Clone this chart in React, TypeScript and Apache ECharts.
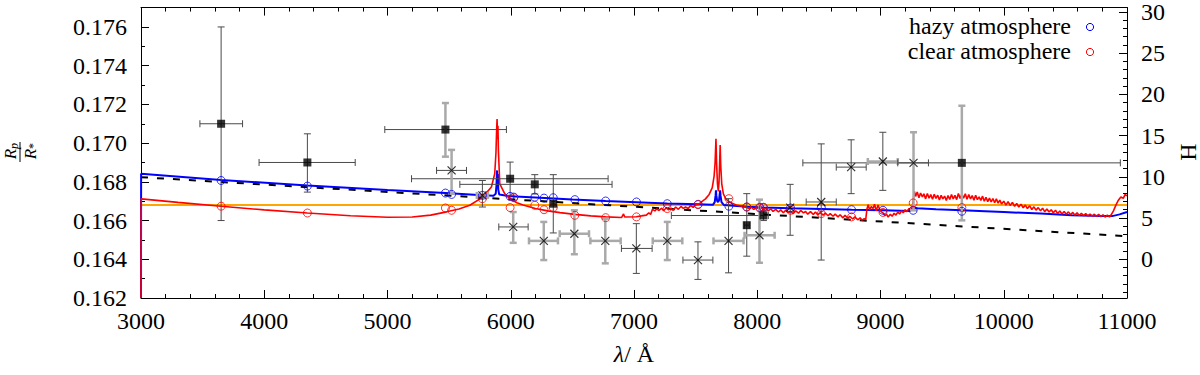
import React, { useEffect, useRef } from 'react';
import * as echarts from 'echarts';

// ---------- axes ----------
const X_MIN = 3000;
const X_MAX = 11000;
const X_STEP = 1000;
const Y_MIN = 0.162;
const Y_MAX = 0.177;
const Y_STEP = 0.002;
const H_MIN = -4.717;
const H_MAX = 30.536;
const H_LABELS = [0, 5, 10, 15, 20, 25, 30];
const H_MINOR = [-4, -3, -2, -1, 0, 1, 2, 3, 4, 5, 6, 7, 8, 9, 10, 11, 12, 13, 14, 15, 16, 17, 18, 19, 20, 21, 22, 23, 24, 25, 26, 27, 28, 29, 30];

// ---------- reference lines ----------
const flatX = [3000, 11000];
const flatY = [0.1668, 0.1668];
const fitX = [3000, 11000];
const fitY = [0.16824, 0.16519];

// ---------- model spectra ----------
const hazyLine: number[][] = [
  [3000, 0.162], [3001, 0.16842], [3650, 0.1681], [4350, 0.16781], [5000, 0.16758], [5470, 0.16742],
  [5770, 0.16731], [5860, 0.16728], [5878, 0.16738], [5884, 0.1678], [5889, 0.16859], [5892, 0.1679],
  [5894, 0.16775], [5896, 0.1684], [5899, 0.1676], [5906, 0.16735], [6000, 0.16725], [6200, 0.16719],
  [6500, 0.16709], [6770, 0.16701], [7020, 0.16695], [7270, 0.16688], [7520, 0.16684], [7640, 0.16681],
  [7655, 0.16695], [7662, 0.1673], [7665, 0.16756], [7668, 0.1673], [7675, 0.167], [7682, 0.16695],
  [7690, 0.16705], [7696, 0.1674], [7699, 0.16756], [7702, 0.1673], [7710, 0.16695], [7730, 0.1668],
  [7915, 0.16671], [8050, 0.16668], [8270, 0.16664], [8520, 0.1666], [8765, 0.16656], [9020, 0.16653],
  [9240, 0.1665], [9262, 0.16667], [9300, 0.16664], [9450, 0.16658], [9660, 0.16653], [9850, 0.16648],
  [10000, 0.16644], [10300, 0.16636], [10550, 0.16627], [10800, 0.16624], [10880, 0.16623],
  [10940, 0.16632], [11000, 0.16644],
];

const clearLine: number[][] = [
  [3000, 0.162], [3001, 0.16712], [3300, 0.16694], [3650, 0.16674], [4000, 0.16655], [4350, 0.16639],
  [4700, 0.16625], [5000, 0.16617], [5200, 0.16618], [5350, 0.16628], [5480, 0.16645], [5580, 0.1666],
  [5668, 0.16679], [5773, 0.16721], [5843, 0.16773], [5870, 0.16842], [5880, 0.1695], [5885, 0.1706],
  [5889, 0.17125], [5892, 0.1705], [5894, 0.1702], [5896, 0.1709], [5900, 0.1696], [5911, 0.1679],
  [5951, 0.16739], [5992, 0.16713], [6050, 0.16692], [6100, 0.1668], [6200, 0.16662], [6300, 0.1665],
  [6400, 0.16641], [6520, 0.16632], [6650, 0.16624], [6770, 0.16619], [6900, 0.16616], [6915, 0.16634],
  [6925, 0.16618], [7019, 0.1662], [7060, 0.16624], [7100, 0.16628], [7120, 0.1664], [7135, 0.16632],
  [7150, 0.16658], [7170, 0.1665], [7185, 0.16661], [7200, 0.16652], [7225, 0.16664], [7240, 0.16651],
  [7262, 0.16666], [7280, 0.16655], [7300, 0.16662], [7318, 0.16653], [7338, 0.1667], [7360, 0.16658],
  [7381, 0.16673], [7400, 0.16663], [7418, 0.1667], [7440, 0.16662], [7458, 0.16678], [7480, 0.16668],
  [7500, 0.1668], [7525, 0.16684], [7550, 0.16698], [7580, 0.16712],
  [7610, 0.16735], [7635, 0.1677], [7650, 0.1683], [7658, 0.169], [7665, 0.17022], [7670, 0.169],
  [7677, 0.1679], [7684, 0.1675], [7690, 0.168], [7695, 0.169], [7699, 0.1699], [7704, 0.1688],
  [7712, 0.1679], [7725, 0.16738], [7745, 0.16712], [7770, 0.16698], [7800, 0.16688], [7830, 0.1668],
  [7860, 0.16676], [7890, 0.16672], [7915, 0.16668], [7935, 0.1666], [7950, 0.1667], [7972, 0.16657],
  [7990, 0.16668], [8012, 0.16661], [8030, 0.16671], [8050, 0.16652], [8068, 0.16664], [8090, 0.1665],
  [8110, 0.16661], [8128, 0.16647], [8150, 0.16658], [8172, 0.16644], [8190, 0.16655], [8212, 0.1664],
  [8232, 0.16654], [8250, 0.16641], [8272, 0.16648], [8290, 0.16636], [8312, 0.1665], [8335, 0.16638],
  [8352, 0.16652], [8375, 0.1664], [8392, 0.16647], [8410, 0.16633], [8432, 0.16646], [8455, 0.16631],
  [8472, 0.16644], [8490, 0.1663], [8512, 0.16641], [8535, 0.16628], [8552, 0.16639], [8575, 0.16625],
  [8592, 0.16636], [8615, 0.16622], [8632, 0.16633], [8655, 0.16619], [8672, 0.1663], [8695, 0.16614],
  [8712, 0.16627], [8735, 0.16612], [8752, 0.16621], [8775, 0.16608], [8792, 0.16619], [8815, 0.16604],
  [8835, 0.16614], [8850, 0.16602], [8868, 0.1661], [8880, 0.16604],
  [8890, 0.1666], [8900, 0.16682], [8912, 0.16655], [8925, 0.16672], [8940, 0.16662], [8952, 0.16684],
  [8965, 0.1665], [8980, 0.1668], [8992, 0.1666], [9005, 0.16646], [9020, 0.1664], [9035, 0.16626],
  [9050, 0.16632], [9062, 0.16618], [9080, 0.16632], [9095, 0.16622], [9110, 0.16638], [9125, 0.16628],
  [9140, 0.16644], [9155, 0.16634], [9170, 0.1665], [9185, 0.1664], [9200, 0.16656], [9215, 0.16646],
  [9230, 0.16662], [9245, 0.16656], [9255, 0.1666], [9265, 0.167], [9275, 0.1675], [9285, 0.16725],
  [9298, 0.16748], [9312, 0.16718], [9325, 0.16742], [9340, 0.16722], [9352, 0.16738], [9366, 0.16712],
  [9380, 0.1674], [9394, 0.16716], [9408, 0.16734], [9422, 0.1671], [9436, 0.16736], [9450, 0.16714],
  [9464, 0.16731], [9478, 0.16706], [9492, 0.1673], [9506, 0.16712], [9520, 0.16726], [9534, 0.16704],
  [9548, 0.16729], [9562, 0.16709], [9576, 0.16735], [9590, 0.16712], [9604, 0.1673], [9618, 0.16708],
  [9632, 0.1674], [9646, 0.16714], [9660, 0.16736], [9674, 0.16716], [9688, 0.16738], [9702, 0.1671],
  [9716, 0.16734], [9730, 0.16712], [9744, 0.16729], [9758, 0.16705], [9772, 0.16731], [9786, 0.16708],
  [9800, 0.16722], [9814, 0.16704], [9828, 0.16726], [9842, 0.167], [9856, 0.1672], [9870, 0.16698],
  [9884, 0.16716], [9898, 0.16696], [9912, 0.16714], [9926, 0.16692], [9940, 0.16712], [9954, 0.1669],
  [9968, 0.16706], [9982, 0.16686], [10000, 0.167], [10018, 0.1668], [10035, 0.16698], [10052, 0.16678],
  [10070, 0.16694], [10088, 0.16674], [10105, 0.16688], [10122, 0.1667], [10140, 0.16684], [10158, 0.16666],
  [10175, 0.1668], [10192, 0.16662], [10210, 0.16676], [10228, 0.16657], [10245, 0.16671], [10262, 0.16654],
  [10280, 0.16667], [10298, 0.1665], [10315, 0.16664], [10332, 0.16646], [10350, 0.1666], [10368, 0.16644],
  [10385, 0.16656], [10402, 0.1664], [10420, 0.16653], [10438, 0.16636], [10455, 0.1665], [10472, 0.16634],
  [10490, 0.16647], [10508, 0.16632], [10525, 0.16645], [10542, 0.1663], [10560, 0.16642], [10578, 0.16628],
  [10595, 0.1664], [10612, 0.16626], [10630, 0.16638], [10648, 0.16625], [10665, 0.16636], [10682, 0.16623],
  [10700, 0.16634], [10718, 0.16622], [10735, 0.16633], [10752, 0.16621], [10770, 0.16632], [10788, 0.1662],
  [10805, 0.1663], [10822, 0.16618], [10840, 0.16628], [10858, 0.16619], [10870, 0.16628], [10890, 0.1665],
  [10910, 0.1668], [10930, 0.16705], [10950, 0.16722], [10970, 0.16715], [10985, 0.16735], [11000, 0.16728],
];

// ---------- binned model points ----------
const binX = [3650, 4350, 5470, 5520, 5770, 5995, 6025, 6195, 6270, 6345, 6520, 6770, 7020, 7270, 7520, 7770, 7915, 8020, 8050, 8270, 8520, 8765, 9020, 9265, 9660];
const hazyBin = [0.16807, 0.16778, 0.16742, 0.16735, 0.1673, 0.16725, 0.16721, 0.16721, 0.16716, 0.16718, 0.16708, 0.16701, 0.16696, 0.16687, 0.16684, 0.16674, 0.1667, 0.16668, 0.16668, 0.16665, 0.16667, 0.16656, 0.16653, 0.16653, 0.16648];
const clearBin = [0.16674, 0.16639, 0.16665, 0.16653, 0.16713, 0.16667, 0.16718, 0.16679, 0.16656, 0.16667, 0.16627, 0.16615, 0.16619, 0.16662, 0.16682, 0.16713, 0.1667, 0.16665, 0.16668, 0.16653, 0.16636, 0.16619, 0.16642, 0.16691, 0.16667];

// ---------- observations: squares ----------
const sqX = [3650, 4350, 5470, 5995, 6195, 6345, 7915, 8050, 9660];
const sqY = [0.171, 0.169, 0.1707, 0.16816, 0.16787, 0.16687, 0.16576, 0.16626, 0.16898];
const sqXLo = [3478, 3958, 4978, 5195, 5587, 6345, 7895, 7303, 8370];
const sqXHi = [3824, 4738, 5965, 6790, 6822, 6345, 7935, 8090, 10946];
const sqYLo = [0.166, 0.16747, 0.1693, 0.1673, 0.16737, 0.16536, 0.16416, 0.166, 0.16601];
const sqYHi = [0.176, 0.17048, 0.17207, 0.16902, 0.16837, 0.16837, 0.16739, 0.1665, 0.17193];
const sqXStyle = [0, 0, 0, 0, 0, 0, 0, 0, 0];
const sqYStyle = [0, 0, 1, 0, 0, 0, 0, 0, 1];

// ---------- observations: crosses ----------
const crX = [5520, 5770, 6020, 6268, 6516, 6767, 7019, 7270, 7519, 7767, 8018, 8267, 8519, 8762, 9019, 9268];
const crY = [0.16859, 0.1673, 0.16567, 0.16495, 0.16532, 0.16495, 0.16456, 0.16495, 0.16396, 0.16495, 0.16524, 0.16667, 0.16696, 0.16876, 0.16905, 0.16898];
const crXLo = [5398, 5725, 5903, 6148, 6397, 6646, 6898, 7152, 7397, 7645, 7897, 8267, 8397, 8641, 8897, 9140];
const crXHi = [5641, 5815, 6141, 6383, 6635, 6892, 7147, 7392, 7640, 7889, 8141, 8267, 8641, 8884, 9140, 9389];
const crYLo = [0.16739, 0.1667, 0.16485, 0.16396, 0.16426, 0.16379, 0.16327, 0.16396, 0.16296, 0.1633, 0.16382, 0.16524, 0.16396, 0.16739, 0.16756, 0.16653];
const crYHi = [0.16965, 0.16807, 0.16644, 0.16593, 0.16653, 0.1661, 0.16584, 0.16593, 0.1649, 0.16713, 0.16708, 0.16787, 0.16996, 0.17017, 0.17056, 0.17056];
const crXStyle = [0, 1, 0, 1, 1, 1, 0, 1, 0, 1, 1, 0, 0, 0, 1, 0];
const crYStyle = [1, 0, 1, 1, 1, 1, 0, 1, 0, 0, 1, 0, 0, 0, 0, 1];

const LEGEND = ['hazy atmosphere', 'clear atmosphere'];

const FONT = 'serif';
const FS = 24;

function App() {
  const ref = useRef<HTMLDivElement>(null);

  useEffect(() => {
    if (!ref.current) return;
    const chart = echarts.init(ref.current, null, { renderer: 'svg' });

    const errData: number[][] = [];
    sqX.forEach((x, i) => errData.push([x, sqY[i], sqXLo[i], sqXHi[i], sqYLo[i], sqYHi[i], sqXStyle[i], sqYStyle[i]]));
    crX.forEach((x, i) => errData.push([x, crY[i], crXLo[i], crXHi[i], crYLo[i], crYHi[i], crXStyle[i], crYStyle[i]]));

    const seg = (x1: number, y1: number, x2: number, y2: number, s: number) => ({
      type: 'line',
      shape: { x1, y1, x2, y2 },
      style: s ? { stroke: '#a9a9a9', lineWidth: 2.5 } : { stroke: '#4a4a4a', lineWidth: 1 },
    });

    const tickStyle = { color: '#000', width: 1 };
    const axisLineStyle = { onZero: false, lineStyle: { color: '#000', width: 1 } };
    const labelStyle = { fontSize: FS, fontFamily: FONT, color: '#000' };

    const option: any = {
      animation: false,
      backgroundColor: '#fff',
      grid: { left: 141, right: 73, top: 7, bottom: 77 },
      xAxis: [
        {
          type: 'value', position: 'bottom', min: X_MIN, max: X_MAX, interval: X_STEP,
          axisLine: { show: true, ...axisLineStyle },
          axisTick: { inside: true, length: 8, lineStyle: tickStyle },
          minorTick: { show: true, splitNumber: 5, length: 4, lineStyle: tickStyle },
          splitLine: { show: false },
          axisLabel: { ...labelStyle, margin: 11, formatter: (v: number) => String(v) },
        },
        {
          type: 'value', position: 'top', min: X_MIN, max: X_MAX, interval: X_STEP,
          axisLine: { show: true, ...axisLineStyle },
          axisTick: { inside: true, length: 8, lineStyle: tickStyle },
          minorTick: { show: true, splitNumber: 5, length: 4, lineStyle: tickStyle },
          splitLine: { show: false },
          axisLabel: { show: false },
        },
      ],
      yAxis: [
        {
          type: 'value', position: 'left', min: Y_MIN, max: Y_MAX, interval: Y_STEP,
          axisLine: { show: true, ...axisLineStyle },
          axisTick: { show: true, inside: true, length: 8, lineStyle: tickStyle },
          minorTick: { show: true, splitNumber: 2, length: 4, lineStyle: tickStyle },
          splitLine: { show: false },
          axisLabel: {
            ...labelStyle, margin: 14,
            formatter: (v: number) => (v > 0.1765 ? '' : v.toFixed(3)),
          },
        },
        {
          type: 'value', position: 'right', min: H_MIN, max: H_MAX,
          axisLine: { show: true, ...axisLineStyle },
          axisTick: { show: true, inside: true, length: 8, lineStyle: tickStyle, customValues: H_LABELS },
          splitLine: { show: false },
          axisLabel: { ...labelStyle, margin: 14, customValues: H_LABELS, formatter: (v: number) => String(v) },
        },
        {
          type: 'value', position: 'right', min: H_MIN, max: H_MAX,
          axisLine: { show: false, onZero: false },
          axisTick: { show: true, inside: true, length: 4, lineStyle: tickStyle, customValues: H_MINOR },
          splitLine: { show: false },
          axisLabel: { show: false, customValues: H_MINOR },
        },
      ],
      series: [
        {
          name: 'flat', type: 'line', showSymbol: false, symbol: 'none', silent: true, z: 2,
          data: flatX.map((x, i) => [x, flatY[i]]),
          lineStyle: { color: '#ffa500', width: 2 },
        },
        {
          name: 'fit', type: 'line', showSymbol: false, symbol: 'none', silent: true, z: 3,
          data: fitX.map((x, i) => [x, fitY[i]]),
          lineStyle: { color: '#000', width: 2, type: [7, 9] },
        },
        {
          name: 'hazy spectrum', type: 'line', showSymbol: false, symbol: 'none', silent: true, z: 4,
          data: hazyLine,
          lineStyle: { color: '#0000ff', width: 2 },
        },
        {
          name: 'clear spectrum', type: 'line', showSymbol: false, symbol: 'none', silent: true, z: 5,
          data: clearLine,
          lineStyle: { color: '#ff0000', width: 1.6 },
        },
        {
          name: 'errors', type: 'custom', z: 6, silent: true,
          data: errData,
          encode: { x: 0, y: 1 },
          renderItem: (_p: any, api: any) => {
            const x = api.value(0), y = api.value(1);
            const xlo = api.value(2), xhi = api.value(3), ylo = api.value(4), yhi = api.value(5);
            const xs = api.value(6), ys = api.value(7);
            const children: any[] = [];
            const cap = 3.5;
            if (xhi > xlo) {
              const a = api.coord([xlo, y]);
              const b = api.coord([xhi, y]);
              children.push(seg(a[0], a[1], b[0], b[1], xs));
              children.push(seg(a[0], a[1] - cap, a[0], a[1] + cap, xs));
              children.push(seg(b[0], b[1] - cap, b[0], b[1] + cap, xs));
            }
            if (yhi > ylo) {
              const a = api.coord([x, ylo]);
              const b = api.coord([x, yhi]);
              children.push(seg(a[0], a[1], b[0], b[1], ys));
              children.push(seg(a[0] - cap, a[1], a[0] + cap, a[1], ys));
              children.push(seg(b[0] - cap, b[1], b[0] + cap, b[1], ys));
            }
            return { type: 'group', children };
          },
        },
        {
          name: LEGEND[0], type: 'scatter', z: 7, symbol: 'circle', symbolSize: 8,
          data: binX.map((x, i) => [x, hazyBin[i]]),
          itemStyle: { color: 'rgba(0,0,0,0)', borderColor: '#0000ff', borderWidth: 1 },
        },
        {
          name: LEGEND[1], type: 'scatter', z: 7, symbol: 'circle', symbolSize: 8,
          data: binX.map((x, i) => [x, clearBin[i]]),
          itemStyle: { color: 'rgba(0,0,0,0)', borderColor: '#ff0000', borderWidth: 1 },
        },
        {
          name: 'squares', type: 'scatter', z: 8, symbol: 'rect', symbolSize: 8,
          data: sqX.map((x, i) => [x, sqY[i]]),
          itemStyle: { color: '#000' },
        },
        {
          name: 'crosses', type: 'scatter', z: 8, symbol: 'path://M0 0L10 10M10 0L0 10', symbolSize: 8,
          data: crX.map((x, i) => [x, crY[i]]),
          itemStyle: { color: 'rgba(0,0,0,0)', borderColor: '#000', borderWidth: 1.2 },
        },
      ],
      graphic: [
        // y-axis title: Rp / R*
        {
          type: 'group', x: 20, y: 152, rotation: Math.PI / 2,
          children: [
            { type: 'text', x: -2, y: -10, style: { text: 'R', fontSize: 17, fontStyle: 'italic', fontFamily: FONT, fill: '#000', align: 'center', verticalAlign: 'middle' } },
            { type: 'text', x: 6, y: -6, style: { text: 'p', fontSize: 12, fontStyle: 'italic', fontFamily: FONT, fill: '#000', align: 'center', verticalAlign: 'middle' } },
            { type: 'line', shape: { x1: -10, y1: 0, x2: 10, y2: 0 }, style: { stroke: '#000', lineWidth: 1 } },
            { type: 'text', x: -2, y: 10, style: { text: 'R', fontSize: 17, fontStyle: 'italic', fontFamily: FONT, fill: '#000', align: 'center', verticalAlign: 'middle' } },
            { type: 'text', x: 6, y: 13, style: { text: '*', fontSize: 12, fontFamily: FONT, fill: '#000', align: 'center', verticalAlign: 'middle' } },
          ],
        },
        // right axis title
        {
          type: 'text', x: 1188, y: 152, rotation: Math.PI / 2,
          style: { text: 'H', fontSize: FS, fontFamily: FONT, fill: '#000', align: 'center', verticalAlign: 'middle' },
        },
        // x-axis title
        {
          type: 'text', x: 634, y: 354,
          style: {
            text: '{i|λ}{n|/ Å}', fontSize: FS, fontFamily: FONT, fill: '#000', align: 'center', verticalAlign: 'middle',
            rich: {
              i: { fontSize: FS, fontFamily: FONT, fontStyle: 'italic', fill: '#000' },
              n: { fontSize: FS, fontFamily: FONT, fill: '#000' },
            },
          },
        },
        // legend
        {
          type: 'text', x: 1071, y: 26,
          style: { text: LEGEND[0], fontSize: FS, fontFamily: FONT, fill: '#000', align: 'right', verticalAlign: 'middle' },
        },
        { type: 'circle', shape: { cx: 1090, cy: 27, r: 3.6 }, style: { fill: 'none', stroke: '#0000ff', lineWidth: 1 } },
        {
          type: 'text', x: 1071, y: 51,
          style: { text: LEGEND[1], fontSize: FS, fontFamily: FONT, fill: '#000', align: 'right', verticalAlign: 'middle' },
        },
        { type: 'circle', shape: { cx: 1090, cy: 52, r: 3.6 }, style: { fill: 'none', stroke: '#ff0000', lineWidth: 1 } },
      ],
    };

    chart.setOption(option);
    return () => chart.dispose();
  }, []);

  return (
    <div
      ref={ref}
      style={{ position: 'fixed', left: 0, top: 0, width: 1200, height: 375, background: '#fff' }}
    />
  );
}

export default App;
